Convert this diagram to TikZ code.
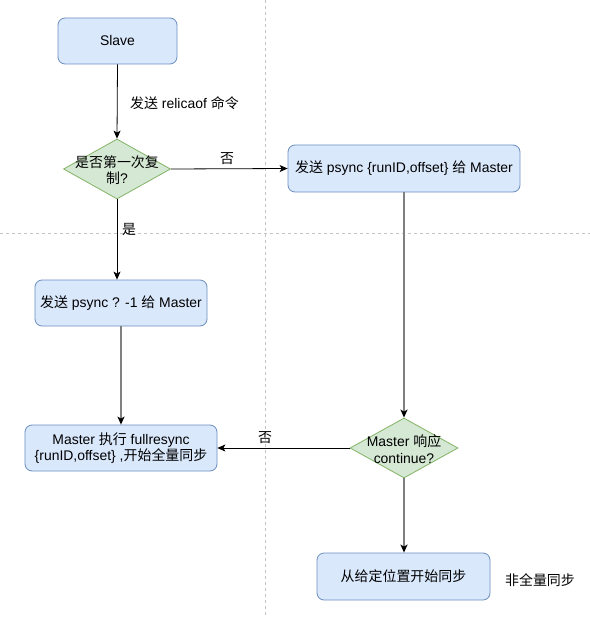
\documentclass[tikz,border=0pt]{standalone}
\usepackage{fontspec}
\setmainfont{Liberation Sans}
\newfontfamily\cjk{Noto Sans CJK SC}
\usetikzlibrary{shapes.geometric,arrows.meta}
\definecolor{boxfill}{HTML}{DAE8FC}
\definecolor{boxline}{HTML}{6C8EBF}
\definecolor{dfill}{HTML}{D5E8D4}
\definecolor{dline}{HTML}{82B366}
\definecolor{gridline}{HTML}{C4C4C4}
\definecolor{grayline}{HTML}{808080}
\begin{document}
\begin{tikzpicture}[x=1bp,y=-1bp,
  font=\fontsize{14}{16.5}\selectfont,
  procbox/.style={draw=boxline, fill=boxfill, rounded corners=7bp, line width=0.8bp, inner sep=0pt, align=center},
  decision/.style={diamond, draw=dline, fill=dfill, line width=0.8bp, inner sep=0pt},
  dtext/.style={align=center, inner sep=0pt},
  blackarrow/.style={draw=black, line width=0.8bp, -{Stealth[length=8bp,width=7bp,inset=2bp]}},
  grayarrow/.style={draw=grayline, line width=1.5bp, -{Stealth[length=8bp,width=7bp,inset=2bp,color=black]}},
  divider/.style={draw=gridline, line width=0.7bp, dash pattern=on 3bp off 3bp},
  lbl/.style={inner sep=0pt}
]
\useasboundingbox (0,0) rectangle (590,617);
\fill[white] (0,0) rectangle (590,617);
% dividers
\coordinate (vtop) at (265,0);
\coordinate (vbot) at (265,617);
\coordinate (hl) at (0,233);
\coordinate (hr) at (590,233);
\draw[divider] (vtop) -- (vbot);
\draw[divider] (hl) -- (hr);

% nodes
\node[procbox, minimum width=119bp, minimum height=46bp] (slave) at (117.5,41) {Slave};
\node[decision, minimum width=107bp, minimum height=60bp] (d1) at (117,169) {};
\node[dtext] (d1t) at (117,170) {{\cjk 是否第一次复}\\{\cjk 制}?};
\node[procbox, minimum width=232bp, minimum height=47bp] (b2) at (404,168.5) {{\cjk 发送} psync \{runID,offset\} {\cjk 给} Master};
\node[procbox, minimum width=172bp, minimum height=46bp] (b3) at (121,303) {{\cjk 发送} psync ? -1 {\cjk 给} Master};
\node[procbox, minimum width=192bp, minimum height=46bp] (b4) at (121,448) {Master {\cjk 执行} fullresync\\\{runID,offset\} ,{\cjk 开始全量同步}};
\node[decision, minimum width=108bp, minimum height=60bp] (d2) at (404,448) {};
\node[dtext] (d2t) at (404,449) {Master {\cjk 响应}\\continue?};
\node[procbox, minimum width=173bp, minimum height=47bp] (b5) at (403.5,576.5) {{\cjk 从给定位置开始同步}};

% labels
\node[lbl, anchor=west] (l1) at (130,103) {{\cjk 发送} relicaof {\cjk 命令}};
\node[lbl] (l2) at (227,159) {\cjk 否};
\node[lbl] (l3) at (129,229) {\cjk 是};
\node[lbl] (l4) at (265,438) {\cjk 否};
\node[lbl] (l5) at (540,580) {\cjk 非全量同步};

% connectors
\draw[blackarrow] (slave.south) -- (d1.north);
\draw[blackarrow] (d1.east) -- (b2.west);
\draw[blackarrow] (d1.south) -- (d1.south |- b3.north);
\draw[grayarrow] (b3.south) -- (b4.north);
\draw[grayarrow] (b2.south) -- (d2.north);
\draw[blackarrow] (d2.west) -- (b4.east);
\draw[grayarrow] (d2.south) -- (d2.south |- b5.north);
\end{tikzpicture}
\end{document}
